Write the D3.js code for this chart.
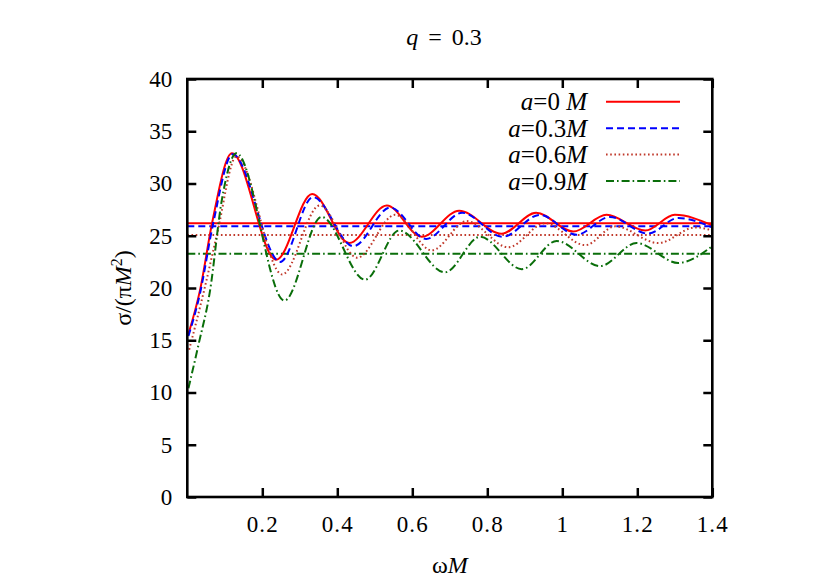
<!DOCTYPE html>
<html>
<head>
<meta charset="utf-8">
<script src="https://cdn.jsdelivr.net/npm/d3@7"></script>
<style>
  html, body { margin: 0; padding: 0; background: #fff; }
  svg text { font-family: "Liberation Serif", "DejaVu Serif", serif; }
</style>
</head>
<body>
<svg id="chart" width="830" height="582"></svg>
<script>
// ---- data ----
const xTicks = [0.2, 0.4, 0.6, 0.8, 1.0, 1.2, 1.4];
const yTicks = [0, 5, 10, 15, 20, 25, 30, 35, 40];

const a0x = [0.003, 0.034, 0.066, 0.119, 0.237, 0.333, 0.432, 0.532, 0.625, 0.725, 0.838, 0.930, 1.029, 1.118, 1.221, 1.300, 1.4];
const a0y = [15.6, 19.8, 26.2, 32.9, 22.7, 29.0, 24.3, 27.9, 24.9, 27.4, 25.2, 27.2, 25.4, 27.0, 25.5, 27.0, 26.0];

const a3x = [0.003, 0.034, 0.068, 0.121, 0.248, 0.335, 0.443, 0.541, 0.637, 0.733, 0.841, 0.940, 1.038, 1.127, 1.229, 1.309, 1.4];
const a3y = [15.4, 19.5, 26.0, 32.8, 22.5, 28.7, 24.0, 27.7, 24.7, 27.2, 24.9, 27.0, 25.1, 26.8, 25.2, 26.7, 25.8];

const a6x = [0.005, 0.045, 0.079, 0.131, 0.253, 0.353, 0.453, 0.554, 0.652, 0.745, 0.856, 0.954, 1.061, 1.141, 1.256, 1.355, 1.4];
const a6y = [14.1, 19.8, 25.1, 32.6, 21.3, 27.9, 22.9, 27.0, 23.6, 26.4, 23.9, 26.2, 24.1, 25.9, 24.3, 25.8, 25.5];

const a9x = [0.003, 0.03, 0.06, 0.092, 0.131, 0.259, 0.358, 0.474, 0.565, 0.687, 0.781, 0.892, 0.985, 1.101, 1.198, 1.309, 1.4];
const a9y = [10.4, 14.6, 19.6, 28.4, 32.9, 18.8, 26.8, 20.8, 25.5, 21.5, 24.9, 21.8, 24.5, 22.1, 24.3, 22.4, 24.0];

// high-frequency limits (horizontal lines)
const limits = [26.2, 25.9, 25.07, 23.28];

const seriesNames = ["a=0 M", "a=0.3M", "a=0.6M", "a=0.9M"];

// ---- layout ----
const svg = d3.select("#chart");
const L = 187.3, R = 712.3, T = 79, B = 497;
const x = d3.scaleLinear().domain([0, 1.4]).range([L, R]);
const y = d3.scaleLinear().domain([0, 40]).range([B, T]);

const styles = [
  { color: "#ff0000", dash: null },
  { color: "#0000ff", dash: "7,4" },
  { color: "#c0392b", dash: "1.6,2.6" },
  { color: "#0a6e0a", dash: "8,3,1.6,3" }
];

const series = [
  [a0x, a0y], [a3x, a3y], [a6x, a6y], [a9x, a9y]
].map(([xs, ys]) => xs.map((v, i) => [v, ys[i]]));

// clip
svg.append("defs").append("clipPath").attr("id", "clip")
  .append("rect").attr("x", L).attr("y", T).attr("width", R - L).attr("height", B - T);

const plot = svg.append("g").attr("clip-path", "url(#clip)");
const line = d3.line().x(d => x(d[0])).y(d => y(d[1])).curve(d3.curveMonotoneX);

series.forEach((s, i) => {
  plot.append("line")
    .attr("x1", x(0)).attr("x2", x(1.4))
    .attr("y1", y(limits[i])).attr("y2", y(limits[i]))
    .attr("stroke", styles[i].color).attr("stroke-width", 2)
    .attr("stroke-dasharray", styles[i].dash);
});
series.forEach((s, i) => {
  plot.append("path").datum(s)
    .attr("d", line)
    .attr("fill", "none")
    .attr("stroke", styles[i].color).attr("stroke-width", 2)
    .attr("stroke-dasharray", styles[i].dash);
});

// ---- axes ----
const fs = 23;
const fmtX = d3.format("~g");
const gx = svg.append("g").attr("transform", `translate(0,${B})`)
  .call(d3.axisBottom(x).tickValues(xTicks).tickFormat(fmtX).tickSizeInner(-9).tickSizeOuter(0).tickPadding(19));
const gxt = svg.append("g").attr("transform", `translate(0,${T})`)
  .call(d3.axisTop(x).tickValues(xTicks).tickFormat("").tickSizeInner(-9).tickSizeOuter(0));
const gy = svg.append("g").attr("transform", `translate(${L},0)`)
  .call(d3.axisLeft(y).tickValues(yTicks).tickSizeInner(-9).tickSizeOuter(0).tickPadding(15));
const gyr = svg.append("g").attr("transform", `translate(${R},0)`)
  .call(d3.axisRight(y).tickValues(yTicks).tickFormat("").tickSizeInner(-9).tickSizeOuter(0));

[gx, gxt, gy, gyr].forEach(g => {
  g.select(".domain").remove();
  g.selectAll(".tick line").attr("stroke", "#000").attr("stroke-width", 2.5);
  g.selectAll(".tick text").attr("font-size", fs).attr("fill", "#000")
    .style("font-family", "'Liberation Serif', serif");
});
gx.selectAll(".tick text").attr("letter-spacing", 1.2);

svg.append("rect").attr("x", L).attr("y", T).attr("width", R - L).attr("height", B - T)
  .attr("fill", "none").attr("stroke", "#000").attr("stroke-width", 2.6);

// ---- titles ----
const title = svg.append("text").attr("x", 444).attr("y", 45)
  .attr("text-anchor", "middle").attr("font-size", 24).attr("word-spacing", 4);
title.append("tspan").attr("font-style", "italic").text("q");
title.append("tspan").text(" = 0.3");

const xt = svg.append("text").attr("x", (L + R) / 2).attr("y", 573)
  .attr("text-anchor", "middle").attr("font-size", 24);
xt.append("tspan").text("ω");
xt.append("tspan").attr("font-style", "italic").text("M");

const yt = svg.append("text").attr("transform", `translate(131,${(T + B) / 2}) rotate(-90)`)
  .attr("text-anchor", "middle").attr("font-size", 24);
yt.append("tspan").text("σ/(π");
yt.append("tspan").attr("font-style", "italic").text("M");
yt.append("tspan").attr("font-size", 16).attr("dy", -9).text("2");
yt.append("tspan").attr("dy", 9).text(")");

// ---- legend ----
const legY = [101.7, 128.3, 154.6, 181];
seriesNames.forEach((name, i) => {
  const t = svg.append("text").attr("x", 587).attr("y", legY[i] + 8.5)
    .attr("text-anchor", "end").attr("font-size", 25);
  const m = name.match(/^a=([0-9. ]*)M$/);
  t.append("tspan").attr("font-style", "italic").text("a");
  t.append("tspan").text("=" + m[1]);
  t.append("tspan").attr("font-style", "italic").text("M");
  svg.append("line")
    .attr("x1", 606).attr("x2", 680).attr("y1", legY[i]).attr("y2", legY[i])
    .attr("stroke", styles[i].color).attr("stroke-width", 2)
    .attr("stroke-dasharray", styles[i].dash);
});
</script>
</body>
</html>
